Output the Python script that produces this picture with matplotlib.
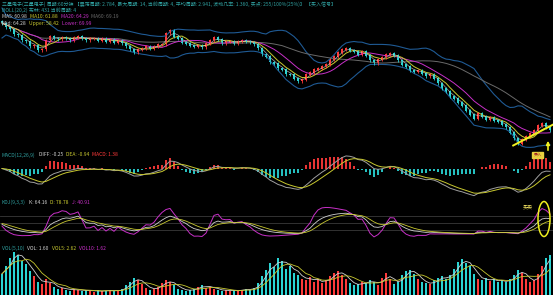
import numpy as np
import pandas as pd
import matplotlib
matplotlib.use("Agg")
import matplotlib.pyplot as plt
from matplotlib.patches import Ellipse, Rectangle

plt.rcParams['font.family'] = ['Noto Sans CJK SC', 'DejaVu Sans']

# ---------------- data ----------------
close = [79.8, 79.0, 78.6, 77.6, 77.4, 76.4, 76.2, 75.2, 75.4, 74.4, 74.6,
         76.4, 77.2, 76.8, 76.6, 77.0, 76.8, 76.4, 76.9, 77.2, 76.7, 76.4,
         76.7, 76.8, 76.3, 76.7, 76.1, 76.5, 75.9, 76.3, 75.8, 75.2, 74.6,
         74.0, 74.5, 74.8, 75.1, 74.7, 75.2, 75.5, 75.6, 77.8, 78.4, 77.1,
         76.7, 75.9, 75.7, 75.3, 75.1, 75.3, 75.0, 75.7, 76.4, 76.9, 76.5,
         75.8, 76.1, 76.2, 75.7, 76.1, 76.4, 76.1, 76.0, 75.6, 74.8, 73.6,
         73.1, 72.0, 71.7, 70.8, 70.5, 69.6, 69.5, 68.7, 68.2, 68.5, 69.5,
         69.9, 70.5, 70.7, 71.2, 71.5, 72.5, 73.1, 73.9, 74.5, 74.8, 74.3,
         74.1, 73.5, 74.1, 73.3, 72.4, 71.8, 72.5, 73.0, 73.5, 73.8, 73.3,
         72.4, 71.5, 71.1, 70.3, 70.1, 70.3, 69.7, 69.2, 69.5, 68.7, 67.8,
         66.7, 66.1, 65.1, 64.7, 63.9, 63.3, 62.3, 61.5, 60.7, 61.7, 61.1,
         60.5, 60.9, 60.3, 60.1, 59.5, 59.0, 57.9, 56.8, 55.6, 56.5, 57.1,
         57.7, 58.3, 59.3, 59.8, 59.0, 58.4]

volume = [40, 55, 70, 82, 75, 65, 58, 45, 35, 25, 20, 30, 22, 15, 12, 14, 10,
          8, 12, 9, 7, 10, 8, 6, 9, 7, 8, 10, 7, 8, 12, 18, 25, 33, 28, 20,
          14, 10, 12, 16, 22, 28, 24, 18, 12, 10, 8, 9, 12, 15, 18, 14, 16,
          12, 9, 8, 10, 7, 9, 8, 10, 12, 9, 14, 22, 35, 48, 60, 52, 70, 65,
          50, 55, 42, 38, 30, 28, 34, 25, 30, 22, 28, 35, 42, 45, 38, 30, 22,
          18, 20, 25, 22, 28, 24, 18, 32, 42, 30, 20, 25, 38, 45, 48, 40, 30,
          25, 22, 20, 28, 32, 35, 30, 38, 50, 62, 68, 60, 55, 40, 30, 28, 32,
          26, 30, 25, 28, 24, 30, 38, 48, 42, 30, 25, 28, 40, 55, 70, 75]

header1 = "三星电子(三星电子) 周期:60分钟 【震荡周期: 2.784, 最大周期: 14, 当前周期: 4, 平均周期: 2.941, 波动几率: 1.360, 买点: 255/100%(25%)】 【买入信号】"
header2 = "BOLL(20,2) 布林: 431 当前周期: 4"
ma_labels = ["MA5: 60.98", "MA10: 61.88", "MA20: 64.29", "MA60: 69.19"]
boll_labels = ["Mid: 64.28", "Upper: 58.42", "Lower: 69.99"]
macd_labels = ["MACD(12,26,9)", "DIFF: -0.25", "DEA: -0.94", "MACD: 1.38"]
kdj_labels = ["KDJ(9,3,3)", "K: 64.16", "D: 78.78", "J: 40.91"]
vol_labels = ["VOL(5,10)", "VOL: 1.60", "VOL5: 2.62", "VOL10: 1.62"]

# ---------------- derived series ----------------
c = pd.Series(close, dtype=float)
o = c.shift(1).fillna(c.iloc[0] + 0.3)
hi = np.maximum(o, c) + 0.3
lo = np.minimum(o, c) - 0.3
n = len(c)
x = np.arange(n)
up = (c >= o).values

RED = '#ff3a3a'
CYAN = '#2ad4d4'
TEAL = '#2f9f9f'
WHITE = '#d0d0d0'
YEL = '#c8c830'
MAG = '#c830c8'
GRAY = '#6a6a6a'
BLUE = '#1f5a94'

fig = plt.figure(figsize=(5.53, 2.95), dpi=100, facecolor='black')
H = 295.0

def add_ax(top, bottom):
    ax = fig.add_axes([0, 1 - bottom / H, 1, (bottom - top) / H])
    ax.set_facecolor('black')
    ax.set_axis_off()
    ax.set_xlim(-0.5, 137.75)
    return ax

ax_main = add_ax(5, 148)
ax_macd = add_ax(150, 197)
ax_kdj = add_ax(198, 240)
ax_vol = add_ax(242, 295)

# ---- main ----
ma = {w: c.rolling(w, min_periods=1).mean() for w in (3, 5, 10, 30)}
mid = c.rolling(12, min_periods=1).mean()
sd = c.rolling(12, min_periods=1).std().fillna(1.5).clip(lower=1.0)
upper = mid + 2 * sd
lower = mid - 2 * sd

ax_main.plot(x, upper, color=BLUE, lw=0.8)
ax_main.plot(x, lower, color=BLUE, lw=0.8)
ax_main.plot(x, ma[30], color=GRAY, lw=0.7)
ax_main.plot(x, ma[10], color=MAG, lw=0.7)
ax_main.plot(x, ma[5], color=YEL, lw=0.7)
ax_main.plot(x, ma[3], color=WHITE, lw=0.5, alpha=0.8)
cols = np.where(up, RED, CYAN)
ax_main.vlines(x, lo, hi, colors=cols, lw=0.6)
ax_main.bar(x, np.abs(c - o) + 0.12, bottom=np.minimum(o, c) - 0.06, width=0.55,
            color=cols, linewidth=0)
ax_main.set_ylim(54.8, 83.4)

# trend line from the lowest low
imin = int(np.argmin(lo.values))
slope = 0.42
xe = 137.75
ax_main.plot([imin - 1.2, xe], [lo.iloc[imin], lo.iloc[imin] + slope * (xe - imin + 1.2)],
             color='#f0f020', lw=1.4, clip_on=False)

# ---- MACD ----
ema_f = c.ewm(span=6, adjust=False).mean()
ema_s = c.ewm(span=13, adjust=False).mean()
dif = ema_f - ema_s
dea = dif.ewm(span=5, adjust=False).mean()
hist = 2 * (dif - dea)
ax_macd.vlines(x, 0, hist, colors=np.where(hist >= 0, RED, CYAN), lw=1.3)
ax_macd.plot(x, dif, color='#a0a0a0', lw=0.7)
ax_macd.plot(x, dea, color=YEL, lw=0.7)
m_lo = min(dif.min(), dea.min(), hist.min())
m_hi = max(dif.max(), dea.max(), hist.max())
ax_macd.set_ylim(m_lo * 1.05, m_hi * 1.35)

# ---- KDJ ----
N = 9
llv = lo.rolling(N, min_periods=1).min()
hhv = hi.rolling(N, min_periods=1).max()
rsv = ((c - llv) / (hhv - llv) * 100).values
K = np.zeros(n); D = np.zeros(n)
kp, dp = 50.0, 50.0
for i in range(n):
    kp = 2 / 3 * kp + rsv[i] / 3
    dp = 2 / 3 * dp + kp / 3
    K[i], D[i] = kp, dp
J = 3 * K - 2 * D
for lvl in (20, 50, 80):
    ax_kdj.axhline(lvl, color='#3a3a3a', lw=0.6)
ax_kdj.plot(x, J, color=MAG, lw=0.7, clip_on=False)
ax_kdj.plot(x, K, color=WHITE, lw=0.6)
ax_kdj.plot(x, D, color=YEL, lw=0.6)
ax_kdj.set_ylim(-23, 158)

# ---- VOL ----
v = pd.Series(volume, dtype=float)
ax_vol.bar(x, v, width=0.55, color=cols, linewidth=0)
ax_vol.plot(x, v.rolling(3, min_periods=1).mean(), color=WHITE, lw=0.6)
ax_vol.plot(x, v.rolling(6, min_periods=1).mean(), color=YEL, lw=0.6)
ax_vol.set_ylim(0, 100)

# ---------------- overlay: text & markers in pixel coords ----------------
ov = fig.add_axes([0, 0, 1, 1])
ov.set_xlim(0, 553)
ov.set_ylim(H, 0)
ov.set_axis_off()
ov.patch.set_alpha(0)
fs = 3.6
renderer = fig.canvas.get_renderer()

def seg(y, labels, colors, x0=2, gap=3):
    xx = x0
    for t, col in zip(labels, colors):
        tx = ov.text(xx, y, t, color=col, fontsize=fs, va='center', ha='left')
        bb = tx.get_window_extent(renderer=renderer)
        xx += bb.width + gap

seg(4, [header1], [TEAL])
seg(10.5, [header2], [TEAL])
seg(17, ma_labels, [WHITE, YEL, MAG, GRAY])
seg(23.5, boll_labels, [WHITE, YEL, MAG])
seg(155, macd_labels, [TEAL, WHITE, YEL, RED])
seg(202.5, kdj_labels, [TEAL, WHITE, YEL, MAG])
seg(248, vol_labels, [TEAL, WHITE, YEL, MAG])

# yellow arrow
ov.annotate('', xy=(548, 138), xytext=(548, 153),
            arrowprops=dict(arrowstyle='-|>', color='#f0f020', lw=1.2,
                            mutation_scale=5))
# small yellow box in MACD panel
ov.add_patch(Rectangle((532, 152), 11, 6, color='#e8d040'))
ov.text(537.5, 155, '买入', color='#a02020', fontsize=3.0, ha='center', va='center')
# buy mark in KDJ panel
ov.text(528, 207, '买卖', color='#f0e060', fontsize=3.6, ha='center', va='center')
ov.add_patch(Ellipse((544, 219), 12, 35, fill=False, edgecolor='#f0f020', lw=1.1))

fig.savefig('out.png', dpi=100, facecolor='black')
